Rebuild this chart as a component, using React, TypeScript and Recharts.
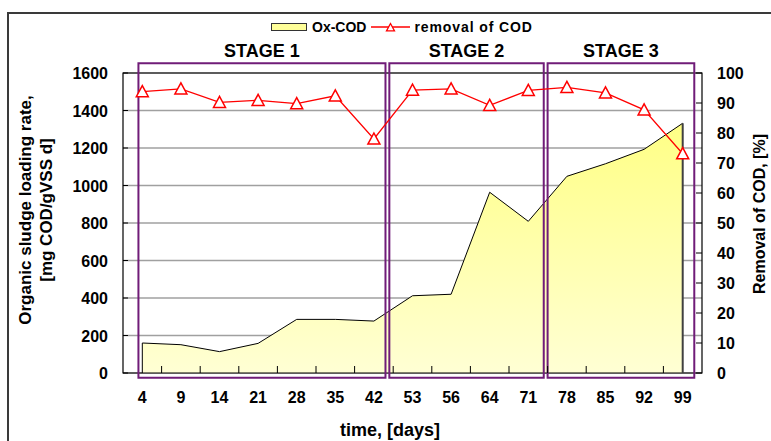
import {
    Area,
    ComposedChart,
    CartesianGrid,
    Legend,
    Line,
    ReferenceArea,
    ReferenceLine,
    XAxis,
    YAxis,
} from "recharts";

// sampling days (category axis)
const days = [4, 9, 14, 21, 28, 35, 42, 53, 56, 64, 71, 78, 85, 92, 99];

// organic sludge loading rate, mg COD/gVSS d (left axis)
const oxCod = [160, 151, 114, 158, 286, 286, 277, 412, 420, 964, 809, 1049, 1116, 1193, 1332];

// removal of COD, % (right axis)
const removal = [93.8, 94.7, 90.2, 90.9, 89.8, 92.4, 78.0, 94.3, 94.7, 89.2, 94.2, 95.2, 93.4, 87.7, 73.1];

const leftTicks = [0, 200, 400, 600, 800, 1000, 1200, 1400, 1600];
const rightTicks = [0, 10, 20, 30, 40, 50, 60, 70, 80, 90, 100];

// stage frames, in category-slot units (slot i spans i..i+1)
const stageNames = ["STAGE 1", "STAGE 2", "STAGE 3"];
const stageFrom = [0.4, 6.9, 11.0];
const stageTo = [6.8, 10.9, 14.8];

const data = days.map((day, i) => ({
    day,
    idx: i + 0.5,
    ox: oxCod[i],
    removal: removal[i],
}));

const FONT = '"Liberation Sans", Arial, sans-serif';
const PURPLE = "#701c78";
const HALF_SLOT = 579 / days.length / 2;

function triangle(cx: number, cy: number, r: number) {
    return `M${cx},${cy - r} L${cx - r},${cy + r * 0.85} L${cx + r},${cy + r * 0.85} Z`;
}

function DayTick(props: any) {
    const { x, y, payload, index } = props;
    return (
        <g>
            {index < days.length - 1 && (
                <line
                    x1={x + HALF_SLOT}
                    x2={x + HALF_SLOT}
                    y1={y - 7}
                    y2={y}
                    stroke="#000"
                />
            )}
            <text
                x={x}
                y={y + 30}
                textAnchor="middle"
                fontFamily={FONT}
                fontWeight="bold"
                fontSize={16}
                fill="#000"
            >
                {payload.value}
            </text>
        </g>
    );
}

function LeftTick(props: any) {
    const { x, y, payload } = props;
    return (
        <g>
            <line x1={x} x2={x + 5} y1={y} y2={y} stroke="#000" />
            <text
                x={x - 15}
                y={y + 6}
                textAnchor="end"
                fontFamily={FONT}
                fontWeight="bold"
                fontSize={16}
                fill="#000"
            >
                {payload.value}
            </text>
        </g>
    );
}

function RightTick(props: any) {
    const { x, y, payload } = props;
    return (
        <g>
            <line x1={x - 6} x2={x} y1={y} y2={y} stroke="#000" />
            <text
                x={x + 15}
                y={y + 6}
                textAnchor="start"
                fontFamily={FONT}
                fontWeight="bold"
                fontSize={16}
                fill="#000"
            >
                {payload.value}
            </text>
        </g>
    );
}

function LeftTitle(props: any) {
    const x = props.viewBox.x;
    const cy = 210;
    return (
        <g fontFamily={FONT} fontWeight="bold" fontSize={17} fill="#000">
            <text
                x={x + 17}
                y={cy}
                textAnchor="middle"
                dominantBaseline="central"
                transform={`rotate(-90 ${x + 17} ${cy})`}
            >
                Organic sludge loading rate,
            </text>
            <text
                x={x + 38}
                y={cy}
                textAnchor="middle"
                dominantBaseline="central"
                transform={`rotate(-90 ${x + 38} ${cy})`}
            >
                [mg COD/gVSS d]
            </text>
        </g>
    );
}

function RightTitle(props: any) {
    const x = props.viewBox.x + 57;
    const cy = 214;
    return (
        <text
            x={x}
            y={cy}
            textAnchor="middle"
            dominantBaseline="central"
            transform={`rotate(-90 ${x} ${cy})`}
            fontFamily={FONT}
            fontWeight="bold"
            fontSize={16}
            fill="#000"
        >
            Removal of COD, [%]
        </text>
    );
}

function BottomTitle() {
    return (
        <text
            x={390}
            y={436}
            textAnchor="middle"
            fontFamily={FONT}
            fontWeight="bold"
            fontSize={18}
            fill="#000"
        >
            time, [days]
        </text>
    );
}

function LegendBox() {
    return (
        <div
            style={{
                display: "flex",
                alignItems: "center",
                fontFamily: FONT,
                fontWeight: "bold",
                fontSize: 14,
                color: "#000",
                whiteSpace: "nowrap",
            }}
        >
            <svg width={36} height={9}>
                <rect x={0.5} y={0.5} width={35} height={7} fill="#ffff99" stroke="#333" />
            </svg>
            <span style={{ marginLeft: 5 }}>Ox-COD</span>
            <svg width={39} height={12} style={{ marginLeft: 5 }}>
                <line x1={0} y1={6} x2={39} y2={6} stroke="#ff0000" strokeWidth={1.5} />
                <path d={triangle(19.5, 6.5, 4)} fill="#fff" stroke="#ff0000" strokeWidth={1.3} />
            </svg>
            <span style={{ marginLeft: 4, letterSpacing: 0.9 }}>removal of COD</span>
        </div>
    );
}

function TriangleDot(props: any) {
    const { cx, cy, index } = props;
    if (cx == null || cy == null) return <g key={index} />;
    return (
        <path
            key={index}
            d={triangle(cx, cy, 6)}
            fill="#fff"
            stroke="#ff0000"
            strokeWidth={1.5}
        />
    );
}

export default function App() {
    return (
        <div
            style={{
                position: "absolute",
                left: 0,
                top: 0,
                width: 771,
                height: 441,
                overflow: "hidden",
                background: "#fff",
            }}
        >
            <div
                style={{
                    position: "absolute",
                    left: 7,
                    top: 12,
                    width: 900,
                    height: 600,
                    borderTop: "2px solid #3a3a3a",
                    borderLeft: "2px solid #3a3a3a",
                }}
            />
            <ComposedChart
                width={771}
                height={441}
                data={data}
                margin={{ top: 73, right: 0, bottom: 0, left: 8 }}
            >
                <defs>
                    <linearGradient id="oxFill" x1="0" y1="0" x2="0" y2="1">
                        <stop offset="0%" stopColor="#ffff85" />
                        <stop offset="100%" stopColor="#ffffd4" />
                    </linearGradient>
                </defs>
                <CartesianGrid
                    yAxisId="left"
                    xAxisId="days"
                    vertical={false}
                    stroke="#a0a0a0"
                    strokeWidth={1.5}
                />
                <XAxis
                    xAxisId="days"
                    dataKey="day"
                    type="category"
                    padding={{ left: HALF_SLOT, right: HALF_SLOT }}
                    height={68}
                    interval={0}
                    axisLine={false}
                    tickLine={false}
                    tickSize={0}
                    tickMargin={0}
                    tick={<DayTick />}
                    label={<BottomTitle />}
                />
                <XAxis
                    xAxisId="idx"
                    dataKey="idx"
                    type="number"
                    domain={[0, days.length]}
                    allowDataOverflow
                    hide
                />
                <YAxis
                    yAxisId="left"
                    width={115}
                    domain={[0, 1600]}
                    ticks={leftTicks}
                    interval={0}
                    axisLine={false}
                    tickLine={false}
                    tickSize={0}
                    tickMargin={0}
                    tick={<LeftTick />}
                    label={<LeftTitle />}
                />
                <YAxis
                    yAxisId="right"
                    orientation="right"
                    width={69}
                    domain={[0, 100]}
                    ticks={rightTicks}
                    interval={0}
                    axisLine={false}
                    tickLine={false}
                    tickSize={0}
                    tickMargin={0}
                    tick={<RightTick />}
                    label={<RightTitle />}
                />
                <Legend
                    verticalAlign="middle"
                    align="center"
                    layout="horizontal"
                    content={<LegendBox />}
                    wrapperStyle={{ top: 19, left: 271, width: 300, height: 18 }}
                />
                <Area
                    xAxisId="days"
                    yAxisId="left"
                    type="linear"
                    dataKey="ox"
                    name="Ox-COD"
                    stroke="#000"
                    strokeWidth={1}
                    fill="url(#oxFill)"
                    fillOpacity={1}
                    dot={false}
                    activeDot={false}
                    isAnimationActive={false}
                />
                <ReferenceLine
                    xAxisId="days"
                    yAxisId="left"
                    segment={[
                        { x: days[0], y: 0 },
                        { x: days[0], y: oxCod[0] },
                    ]}
                    stroke="#000"
                />
                <ReferenceLine
                    xAxisId="days"
                    yAxisId="left"
                    segment={[
                        { x: days[days.length - 1], y: 0 },
                        { x: days[days.length - 1], y: oxCod[oxCod.length - 1] },
                    ]}
                    stroke="#404040"
                    strokeWidth={2}
                />
                <ReferenceArea
                    xAxisId="idx"
                    yAxisId="left"
                    x1={0}
                    x2={days.length}
                    y1={0}
                    y2={1600}
                    fill="none"
                    stroke="#000"
                    strokeWidth={1.2}
                />
                {stageNames.map((name, i) => (
                    <ReferenceArea
                        key={name}
                        xAxisId="idx"
                        yAxisId="left"
                        x1={stageFrom[i]}
                        x2={stageTo[i]}
                        y1={-25}
                        y2={1652}
                        ifOverflow="visible"
                        fill="none"
                        stroke={PURPLE}
                        strokeWidth={2}
                        label={{
                            value: name,
                            position: "top",
                            offset: 6,
                            fill: "#000",
                            fontFamily: FONT,
                            fontWeight: "bold",
                            fontSize: 18,
                        }}
                    />
                ))}
                <Line
                    xAxisId="days"
                    yAxisId="right"
                    type="linear"
                    dataKey="removal"
                    name="removal of COD"
                    stroke="#ff0000"
                    strokeWidth={1.3}
                    dot={<TriangleDot />}
                    activeDot={false}
                    isAnimationActive={false}
                />
            </ComposedChart>
        </div>
    );
}
